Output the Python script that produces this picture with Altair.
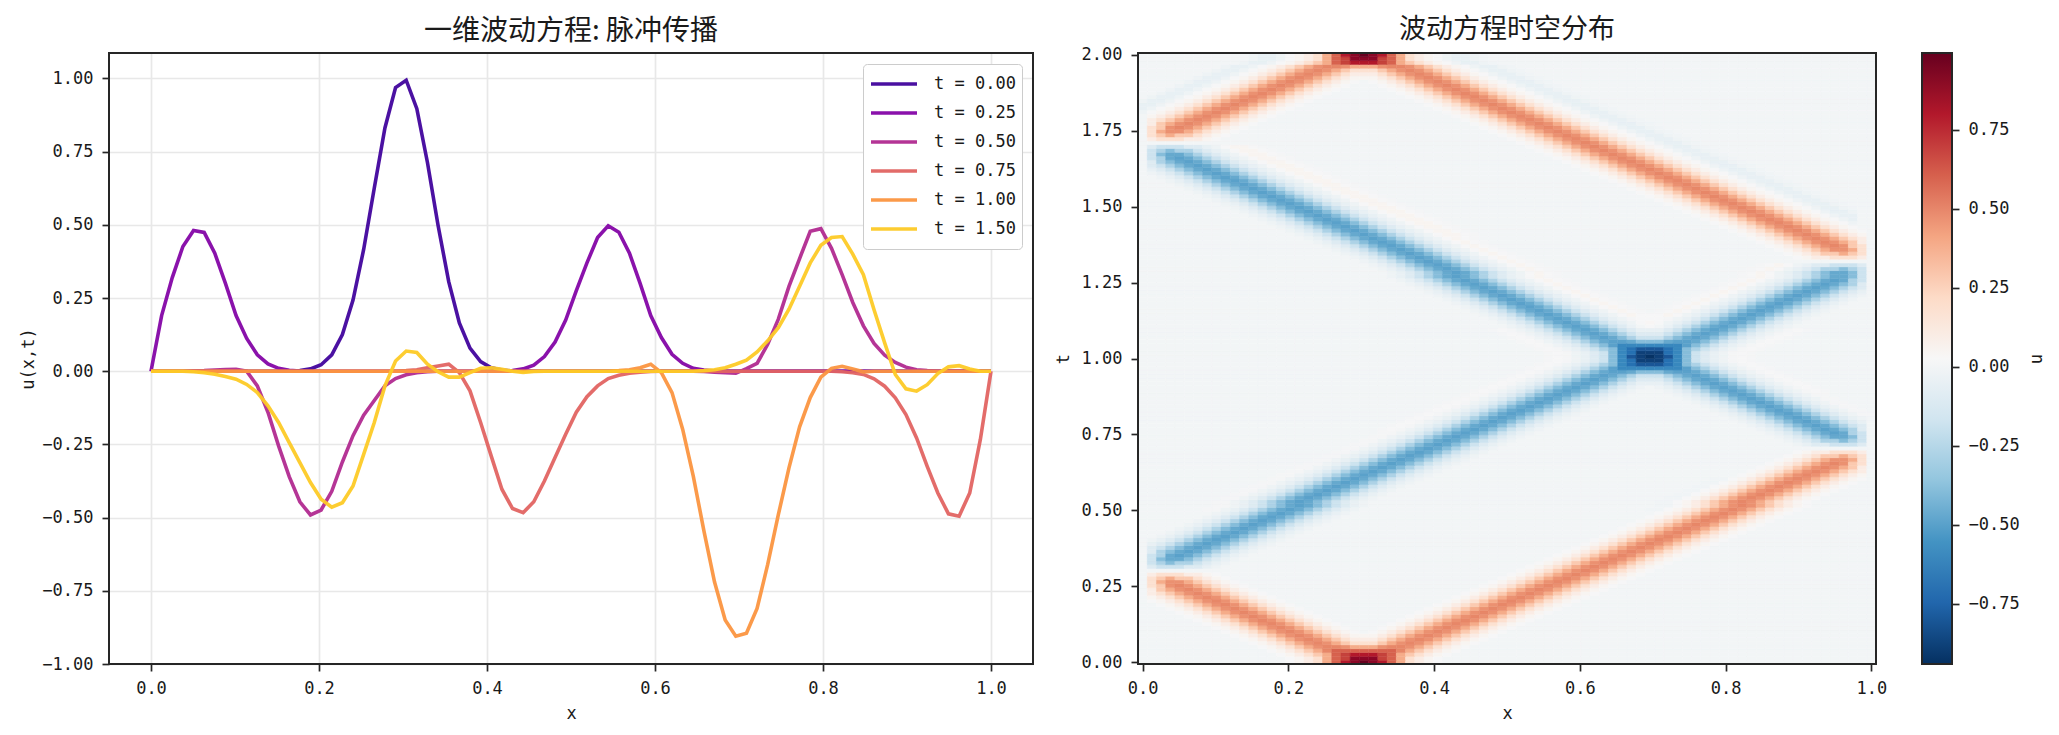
import altair as alt
import numpy as np
import pandas as pd

alt.data_transformers.disable_max_rows()

TICK_FONT = "DejaVu Sans Mono"
TITLE_FONT = "Noto Sans CJK SC"
DARK = "#262626"

labels = ["t = 0.00", "t = 0.25", "t = 0.50", "t = 0.75", "t = 1.00", "t = 1.50"]
line_colors = ["#41049d", "#8405a7", "#b12a90", "#e16462", "#fb9540", "#fdca26"]

u_000 = [0, 0, 0, 0, 0, 0, 0, 0, 0, 0,
         0, 0, 0, .001, .002, .008, .022, .056, .125, .243,
         .416, .626, .831, .969, .994, .897, .713, .498, .306, .165,
         .079, .033, .012, .004, .001, 0, 0, 0, 0, 0,
         0, 0, 0, 0, 0, 0, 0, 0, 0, 0,
         0, 0, 0, 0, 0, 0, 0, 0, 0, 0,
         0, 0, 0, 0, 0, 0, 0, 0, 0, 0,
         0, 0, 0, 0, 0, 0, 0, 0, 0, 0]
u_025 = [0, .19, .32, .426, .481, .474, .403, .30, .19, .112,
         .056, .025, .01, .003, .001, 0, 0, 0, 0, 0,
         0, 0, 0, 0, 0, 0, 0, 0, 0, 0,
         0, 0, 0, 0, .002, .008, .021, .05, .10, .175,
         .275, .37, .457, .497, .475, .403, .30, .19, .115, .058,
         .027, .01, .004, .001, 0, 0, 0, 0, 0, 0,
         0, 0, 0, 0, 0, 0, 0, 0, 0, 0,
         0, 0, 0, 0, 0, 0, 0, 0, 0, 0]
u_050 = [0, 0, 0, 0, .001, .002, .004, .006, .007, 0,
         -.05, -.14, -.255, -.36, -.446, -.491, -.474, -.41, -.31, -.22,
         -.15, -.10, -.05, -.025, -.012, -.005, -.002, 0, 0, 0,
         0, 0, 0, 0, 0, 0, 0, 0, 0, 0,
         0, 0, 0, 0, 0, 0, 0, 0, 0, 0,
         0, 0, -.001, -.003, -.005, -.007, .009, .027, .092, .178,
         .29, .385, .478, .487, .42, .33, .235, .155, .095, .055,
         .03, .014, .005, .002, 0, 0, 0, 0, 0, 0]
u_075 = [0, 0, 0, 0, 0, 0, 0, 0, 0, 0,
         0, 0, 0, 0, 0, 0, 0, 0, 0, 0,
         0, 0, 0, 0, .002, .005, .012, .018, .024, -.005,
         -.067, -.175, -.29, -.403, -.469, -.483, -.446, -.375, -.295, -.215,
         -.14, -.087, -.05, -.025, -.014, -.007, -.003, -.001, 0, 0,
         0, 0, 0, 0, 0, 0, 0, 0, 0, 0,
         0, 0, 0, 0, 0, -.002, -.005, -.011, -.026, -.051,
         -.091, -.148, -.228, -.325, -.416, -.487, -.495, -.416, -.233, 0]
u_100 = [0, 0, 0, 0, 0, 0, 0, 0, 0, 0,
         0, 0, 0, 0, 0, 0, 0, 0, 0, 0,
         0, 0, 0, 0, 0, 0, 0, 0, 0, 0,
         0, 0, 0, 0, 0, 0, 0, 0, 0, 0,
         0, 0, 0, 0, .002, .005, .012, .024, -.005, -.073,
         -.198, -.358, -.545, -.72, -.85, -.905, -.895, -.81, -.66, -.49,
         -.33, -.19, -.09, -.02, .01, .017, .008, -.002, 0, 0,
         0, 0, 0, 0, 0, 0, 0, 0, 0, 0]
u_150 = [0, 0, 0, 0, -.002, -.005, -.01, -.018, -.027, -.045,
         -.073, -.118, -.175, -.244, -.312, -.38, -.437, -.464, -.449, -.392,
         -.284, -.175, -.05, .035, .069, .064, .024, -.002, -.02, -.02,
         -.005, .01, .012, .007, 0, -.004, -.001, 0, 0, 0,
         0, 0, 0, 0, 0, 0, 0, 0, 0, 0,
         0, 0, .002, .005, .012, .024, .038, .066, .104, .149,
         .212, .29, .37, .43, .457, .46, .40, .33, .21, .097,
         -.011, -.06, -.068, -.046, -.008, .015, .019, .008, 0, 0]
line_values = [u_000, u_025, u_050, u_075, u_100, u_150]

# heatmap cells, one text row per time step, "column:codes" for the non-zero runs
LEVELS = {".": 0, "A": .01, "B": .02, "C": .05, "D": .10, "E": .18, "F": .28, "G": .39,
          "H": .47, "I": .50, "J": .60, "K": .70, "L": .80, "M": .90, "N": .99,
          "a": -.01, "b": -.02, "c": -.05, "d": -.10, "e": -.18, "f": -.28, "g": -.39,
          "h": -.47, "i": -.50, "j": -.60, "k": -.70, "l": -.80, "m": -.88, "n": -.93}
PLUS = "BCDEFGHIHGFEDCB"
MINUS = "bcdefghihgfedcb"
heat_rows = [
    "16:BCDEGJLMNMLJGEDCB", "16:BCDEGJKMMMKJGEDCB", "15:BCDEFGJKLLLKJGFEDCB",
    "14:BCDEFGIJJJJJJJIGFEDCB", "13:BCDEFGHIIHGGGHIIHGFEDCB", "12:BCDEFGHIHGFEEEFGHIHGFEDCB",
    "11:BCDEFGHIHGFEDDDEFGHIHGFEDCB", "10:BCDEFGHIHGFEDCCCDEFGHIHGFEDCB",
    "9:+ 25:+", "8:+ 26:+", "7:+ 27:+", "6:+ 28:+", "5:+ 29:+", "4:+ 30:+", "3:+ 31:+",
    "2:+ 32:+", "1:+ 33:+",
    "0:.CDEFGHIHGFEDCB 34:+", "0:.DEFGHIHGFEDCB 35:+", "0:.DFGHIHGFEDCB 36:+",
    "0:.EFHIHGFEDCB 37:+", "0:.EGHHGFEDCB 38:+", "0:.EFGFFEDCB 39:+", "0:.DEEEDDCB 40:+",
    "41:+",
    "0:.deeeddcb 42:+", "0:.efgffedcb 43:+", "0:.eghhgfedcb 44:+", "0:.efhihgfedcb 45:+",
    "0:.dfghihgfedcb 46:+", "0:.defghihgfedcb 47:+", "0:.cdefghihgfedcb 48:+",
    "1:- 49:+", "2:- 50:+", "3:- 51:+", "4:- 52:+", "5:- 53:+", "6:- 54:+", "7:- 55:+", "8:- 56:+",
    "7:AA- 55:aa+", "8:AA- 56:aa+", "8:AA- 56:aa+", "9:AA- 57:aa+", "10:AA- 58:aa+", "11:AA- 59:aa+",
    "12:AA- 60:aa+", "13:AA- 61:aa+", "14:AA- 62:aa+",
    "15:AA- 65:BCDEFGHIHGFEDC.", "16:AA- 66:BCDEFGHIHGFED.", "17:AA- 67:BCDEFGHIHGFD.",
    "18:AA- 68:BCDEFGHIHFE.", "19:AA- 69:BCDEFGHHGE.", "20:AA- 70:BCDEFFGFE.", "21:AA- 71:BCDDEEED.",
    "22:AA-",
    "23:AA- 71:bcddeeed.", "24:AA- 70:bcdeffgfe.", "25:AA- 69:bcdefghhge.", "26:AA- 68:bcdefghihfe.",
    "26:ABA- 67:bcdefghihgfd.", "27:ABA- 66:bcdefghihgfed.", "28:ABA- 65:bcdefghihgfedc.",
    "29:ABA- 64:-", "30:ABA- 63:-AA", "31:ABA- 62:-AA", "32:ABA- 61:-AA", "33:ABA- 60:-AA",
    "34:ABA- 59:-AA", "35:ABA- 58:-AA", "36:ABA- 57:-ABA", "37:ABA- 56:-ABA",
    "38:ABAbcdefghihgfedcccdefghihgfedcbABA", "39:ABAbcdefghihgfedddefghihgfedcbABA",
    "40:ABAbcdefghihgfeeefghihgfedcbABA", "41:ABAbcdefghiihggghiihgfedcbABA",
    "42:ABAbcdefgijjjjjjjigfedcbABA", "43:ABAbcdefgjklllkjgfedcbABA",
    "44:ABAbcdegjkmmmkjgedcbABA", "44:ABAbcdegjlmnmljgedcbABA", "44:ABAbcdegjkmmmkjgedcbABA",
    "43:ABAbcdefgjklllkjgfedcbABA", "42:ABAbcdefgijjjjjjjigfedcbABA",
    "41:ABAbcdefghiihggghiihgfedcbABA", "40:ABAbcdefghihgfeeefghihgfedcbABA",
    "39:ABAbcdefghihgfedddefghihgfedcbABA", "38:ABAbcdefghihgfedcccdefghihgfedcbABA",
    "40:-ABA 53:ABA-", "39:-ABA 54:ABA-", "38:-ABA 55:ABA-",
    "37:-BCBA 55:ABCB-", "36:-BCBA 56:ABCB-", "35:-BCBA 57:ABCB-", "34:-BCBA 58:ABCB-",
    "33:-BCBA 59:ABCB-", "32:-BCBA 60:ABCB-",
    "31:-BCBA 61:ABCBbcdefghihgfedc.", "30:-BCBA 62:ABCBbcdefghihgfed.", "29:-BCBA 63:ABCBbcdefghihgfd.",
    "28:-BCBA 64:ABCBbcdefghihfe.", "27:-BCBA 65:ABCBbcdefghhge.", "27:-BCBA 65:ABCBbcdefghhge.",
    "26:-BCBA 66:ABCBbcdeffgfe.",
    "25:-BCBA 67:ABCBbcddeeed.", "24:-BCBA",
    "23:-BCBA 71:BCDDEEED.", "22:-BCBA 70:BCDEFFGFE.", "21:-BCBA 69:BCDEFGHHGE.",
    "20:-BCBA 68:BCDEFGHIHFE.", "19:-BCBA 67:BCDEFGHIHGFD.", "18:-BCBA 66:BCDEFGHIHGFED.",
    "17:-BCCBA 65:BCDEFGHIHGFEDC.", "16:-BCCBA 64:+", "15:-BCCBA 63:+", "14:-BCCBA 62:+b",
    "13:-BCCBA 61:+bc", "12:-BCCBA 60:+bcc", "11:-BCCBA 59:+bccb", "10:-BCCBA 58:+bccba",
    "9:-BCCBA 57:+bccba", "8:-BCCBA 56:+bccba", "7:-BCCBA 55:+bccba", "6:-BCCBA 54:+bccba",
    "5:-BCCBA 53:+bccba", "4:-BCCBA 52:+bccba", "3:-BCCBA 51:+bccba", "2:-BCCBA 50:+bccba",
    "1:-BCCBA 49:+bccba",
    "0:.cdefghihgfedcbBCCBA 48:+bccba", "0:.defghihgfedcbBCCBA 47:+bccba",
    "0:.dfghihgfedcbBCCBA 46:+bccba", "0:.efhihgfedcbBCCBA 45:+bccba",
    "0:.eghhgfedcbBCCBA 44:+bccba", "0:.efgffedcbBCCBA 43:+bccba", "0:.deeeddcbBCCBA 42:+bccba",
    "41:+bccba",
    "0:.DEEEDDCB 40:+bccba", "0:.EFGFFEDCB 39:+bccba", "0:.EGHHGFEDCB 38:+bccba",
    "0:.EFHIHGFEDCB 37:+bccba", "0:.DFGHIHGFEDCB 36:+bccba", "0:.DEFGHIHGFEDCB 35:+bccba",
    "0:.CDEFGHIHGFEDCB 34:+bccba",
    "0:b 1:+ 33:+bccba", "0:cb 2:+ 32:+bccba", "0:ccb 3:+ 31:+bccba", "0:bccb 4:+ 30:+bccba",
    "1:bccb 5:+ 29:+bccba", "2:bccb 6:+ 28:+bccba", "3:bccb 7:+ 27:+bccba", "4:bccb 8:+ 26:+bccba",
    "5:bccb 9:+ 25:+bccba",
    "6:bccbBCDEFGHIHGFEDCCCDEFGHIHGFEDCBbccba", "7:bccbBCDEFGHIHGFEDDDEFGHIHGFEDCBbccba",
    "8:bccbBCDEFGHIHGFEEEFGHIHGFEDCBbccba", "9:bccbBCDEFGHIIHGGGHIIHGFEDCBbccba",
    "11:bccbBCDEFGJKLLLKJGFEDCBbccba",
    "12:bccbBCDEGJKMMMKJGEDCBbccba", "12:bccbBCDEGJLMNMLJGEDCBbccba",
]

nx, nt = 80, len(heat_rows)
xs = np.linspace(0, 1, nx)
ts = np.linspace(0, 2, nt)
grid = np.zeros((nt, nx))
for r, row in enumerate(heat_rows):
    for piece in row.split():
        start, codes = piece.split(":")
        codes = codes.replace("+", PLUS).replace("-", MINUS)
        for i, ch in enumerate(codes):
            col = int(start) + i
            if 0 <= col < nx:
                grid[r, col] += LEVELS[ch]

dx = xs[1] - xs[0]
dt = ts[1] - ts[0]
heat = pd.DataFrame({
    "x0": np.tile(xs - dx / 2, nt),
    "x1": np.tile(xs + dx / 2, nt),
    "t0": np.repeat(ts - dt / 2, nx),
    "t1": np.repeat(ts + dt / 2, nx),
    "u": np.round(grid.ravel(), 3),
})

lines = pd.concat(
    [pd.DataFrame({"x": xs, "u": v, "label": lab}) for v, lab in zip(line_values, labels)],
    ignore_index=True,
)

RDBU_R = ["#053061", "#2166ac", "#4393c3", "#92c5de", "#d1e5f0", "#f7f7f7",
          "#fddbc7", "#f4a582", "#d6604d", "#b2182b", "#67001f"]
U_MIN, U_MAX = -.94, .993
u_stops = list(np.linspace(U_MIN, U_MAX, len(RDBU_R)))
u_scale = alt.Scale(domain=u_stops, range=RDBU_R, clamp=True)

PLOT_H = 611


def num_axis(title, values, fmt, **kw):
    return alt.Axis(
        title=title, values=values, format=fmt, domain=False, tickColor=DARK, tickSize=7,
        tickWidth=1.7, labelFont=TICK_FONT, labelFontSize=17, labelColor="#1a1a1a",
        labelPadding=9, titleFont=TICK_FONT, titleFontSize=17, titleColor="#1a1a1a",
        titleFontWeight="normal", **kw,
    )


def frame(w):
    return alt.Chart(pd.DataFrame({"a": [0]})).mark_rect(
        fillOpacity=0, stroke=DARK, strokeWidth=2
    ).encode(x=alt.value(0), x2=alt.value(w), y=alt.value(0), y2=alt.value(PLOT_H))


curves = alt.Chart(lines).mark_line(strokeWidth=3.6, opacity=.95).encode(
    x=alt.X("x:Q", scale=alt.Scale(domain=[-.05, 1.05], nice=False),
            axis=num_axis("x", [0, .2, .4, .6, .8, 1], ".1f", grid=True, gridColor="#e8e8e8",
                          gridWidth=1.7, titlePadding=9)),
    y=alt.Y("u:Q", scale=alt.Scale(domain=[-1.0, 1.087], nice=False),
            axis=num_axis("u(x,t)", [-1, -.75, -.5, -.25, 0, .25, .5, .75, 1], ".2f", grid=True,
                          gridColor="#e8e8e8", gridWidth=1.7, titlePadding=4)),
    color=alt.Color("label:N", scale=alt.Scale(domain=labels, range=line_colors),
                    legend=alt.Legend(
                        title=None, orient="none", legendX=754, legendY=11, fillColor="white",
                        strokeColor="#cccccc", cornerRadius=4, padding=6, symbolType="stroke",
                        symbolSize=2116, symbolStrokeWidth=3.6, clipHeight=28, rowPadding=1,
                        labelFont=TICK_FONT, labelFontSize=17, labelColor="#1a1a1a", labelOffset=15)),
)
left = alt.layer(curves, frame(924)).properties(
    width=924, height=PLOT_H,
    title=alt.TitleParams("一维波动方程: 脉冲传播", font=TITLE_FONT, fontSize=28,
                          fontWeight="normal", color="#1a1a1a", offset=6),
)

cells = alt.Chart(heat).mark_rect(strokeWidth=.5).encode(
    x=alt.X("x0:Q", scale=alt.Scale(domain=[-dx / 2, 1 + dx / 2], nice=False),
            axis=num_axis("x", [0, .2, .4, .6, .8, 1], ".1f", grid=False, titlePadding=9)),
    x2="x1:Q",
    y=alt.Y("t0:Q", scale=alt.Scale(domain=[-dt / 2, 2 + dt / 2], nice=False),
            axis=num_axis("t", [0, .25, .5, .75, 1, 1.25, 1.5, 1.75, 2], ".2f", grid=False, titlePadding=9)),
    y2="t1:Q",
    color=alt.Color("u:Q", scale=u_scale, legend=None),
    stroke=alt.Stroke("u:Q", scale=u_scale, legend=None),
)
right = alt.layer(cells, frame(738)).properties(
    width=738, height=PLOT_H,
    title=alt.TitleParams("波动方程时空分布", font=TITLE_FONT, fontSize=27,
                          fontWeight="normal", color="#1a1a1a", offset=2),
)

bar_fill = alt.Gradient(
    gradient="linear",
    stops=[alt.GradientStop(color=c, offset=i / (len(RDBU_R) - 1)) for i, c in enumerate(RDBU_R)],
    x1=0, x2=0, y1=1, y2=0,
)
bar_rect = alt.Chart(pd.DataFrame({"lo": [U_MIN], "hi": [U_MAX]})).mark_rect(color=bar_fill).encode(
    y=alt.Y("lo:Q", scale=alt.Scale(domain=[U_MIN, U_MAX], nice=False),
            axis=num_axis("u", [-.75, -.5, -.25, 0, .25, .5, .75], ".2f", orient="right",
                          grid=False, titlePadding=26, titleAngle=270)),
    y2="hi:Q",
)
bar = alt.layer(bar_rect, frame(30)).properties(width=30, height=PLOT_H)

chart = alt.hconcat(
    left,
    alt.hconcat(right, bar, spacing=46, bounds="flush"),
    spacing=105, bounds="flush",
).properties(
    padding={"left": 11, "top": 7, "right": 5, "bottom": 5},
).configure_view(stroke=DARK, strokeWidth=2).configure(background="white")

chart.save("out.html", embed_options={"renderer": "svg", "actions": False})
